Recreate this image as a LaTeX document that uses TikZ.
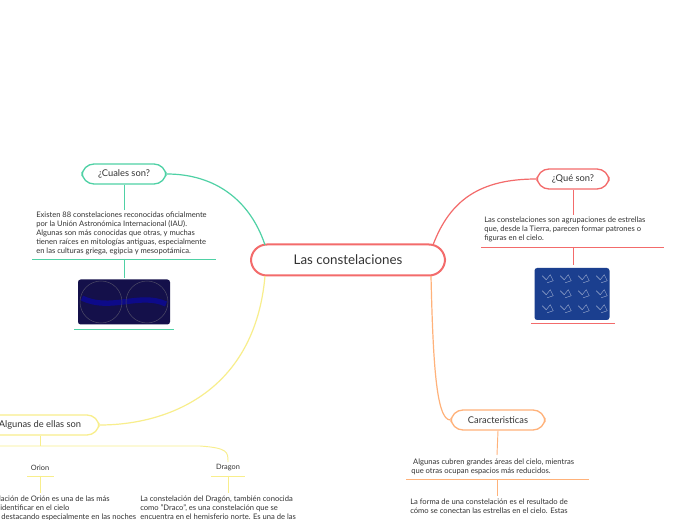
\documentclass[tikz,border=0pt]{standalone}
\usepackage{fontspec}
\setmainfont{Lato}
\usepackage{tikz}
\usetikzlibrary{calc}
\definecolor{rojo}{HTML}{F36B6B}
\definecolor{verde}{HTML}{4FD1A5}
\definecolor{amarillo}{HTML}{F8EE8C}
\definecolor{naranja}{HTML}{FFB27A}
\definecolor{cielo}{HTML}{1B3F8F}
\definecolor{noche}{HTML}{14104A}
\tikzset{
  tema/.style={draw=#1,line width=1pt,rounded corners=9pt,fill=white,
    minimum height=20pt*0.75,font=\fontsize{7}{8}\selectfont,text=black!80},
  texto/.style={anchor=north west,align=left,inner sep=0pt,
    font=\fontsize{5.7}{6.75}\selectfont,text=black!80},
  rama/.style={draw=#1,line width=0.9pt},
  linea/.style={draw=#1,line width=0.7pt}
}
\begin{document}
\begin{tikzpicture}[x=0.75pt,y=-0.75pt]
   \useasboundingbox[fill=white] (0,0) rectangle (697,520);
   %nodo central
   \node[tema=rojo,line width=1.5pt,minimum width=194*0.75pt,minimum height=31*0.75pt,
         rounded corners=12pt,font=\fontsize{10}{12}\selectfont] (central) at (348,260) {Las constelaciones};
   %ramas
   \node[tema=rojo,minimum width=72*0.75pt] (que) at (573,179) {¿Qué son?};
   \node[tema=verde,minimum width=84*0.75pt] (cuales) at (124,174) {¿Cuales son?};
   \node[tema=amarillo,minimum width=118*0.75pt] (algunas) at (40,425) {Algunas de ellas son};
   \node[tema=naranja,minimum width=94*0.75pt] (caract) at (498,420) {Caracteristicas};
   \draw[rama=rojo] (433,245) .. controls (450,200) and (480,179) .. (que.west);
   \draw[rama=verde] (265,245) .. controls (250,200) and (215,174) .. (cuales.east);
   \draw[rama=amarillo] (265,276) .. controls (255,390) and (170,425) .. (algunas.east);
   \draw[rama=naranja] (431,276) .. controls (433,360) and (436,420) .. (caract.west);
   %que son
   \node[texto] (t1) at (484,217) {Las constelaciones son agrupaciones de estrellas\\que, desde la Tierra, parecen formar patrones o\\figuras en el cielo.};
   \draw[linea=rojo] (que.south) -- (573,215);
   \draw[linea=rojo] (481,247) -- (664,247);
   \draw[linea=rojo] (573,247) -- (573,265);
   \node[fill=cielo,rounded corners=2pt,minimum width=75*0.75pt,minimum height=52*0.75pt] (img1) at (572,294) {};
   \foreach \i in {0,1,2,3} \foreach \j in {0,1,2}
      \draw[white!60!cielo,line width=0.3pt] ($(img1.north west)+(8+\i*18,8+\j*15)$) -- ++(4,4) -- ++(4,-5) -- ++(3,6) -- ++(-6,2);
   \draw[linea=rojo] (531,323) -- (615,323);
   %cuales son
   \draw[linea=verde] (cuales.south) -- (124,210);
   \node[texto] (t2) at (36,212) {Existen 88 constelaciones reconocidas oficialmente\\por la Unión Astronómica Internacional (IAU).\\Algunas son más conocidas que otras, y muchas\\tienen raíces en mitologías antiguas, especialmente\\en las culturas griega, egipcia y mesopotámica.};
   \draw[linea=verde] (32,259) -- (216,259);
   \draw[linea=verde] (124,259) -- (124,278);
   \node[fill=noche,rounded corners=2pt,minimum width=92*0.75pt,minimum height=45*0.75pt] (img2) at (124,302) {};
   \draw[blue!35!noche,line width=4pt] (82,298) .. controls (110,312) and (140,292) .. (166,304);
   \draw[gray!50!noche,line width=0.4pt] (101,302) circle (21) (147,302) circle (21);
   \draw[linea=verde] (74,329) -- (174,329);
   %algunas de ellas son
   \draw[linea=amarillo] (algunas.south) -- (40,446);
   \draw[linea=amarillo] (0,446) -- (200,446) .. controls (228,448) and (228,452) .. (228,462);
   \node[font=\fontsize{5.5}{6}\selectfont,text=black!80] (orion) at (40,468) {Orion};
   \node[font=\fontsize{5.5}{6}\selectfont,text=black!80] (dragon) at (228,468) {Dragon};
   \draw[linea=amarillo] (27,476) -- (54,476);
   \draw[linea=amarillo] (211,476) -- (245,476);
   \draw[linea=amarillo] (40,476) -- (40,493);
   \draw[linea=amarillo] (228,476) -- (228,493);
   \node[texto] (t3) at (-33,496) {La constelación de Orión es una de las más\\fáciles de identificar en el cielo\\nocturno, destacando especialmente en las noches};
   \node[texto] (t4) at (140,496) {La constelación del Dragón, también conocida\\como "Draco", es una constelación que se\\encuentra en el hemisferio norte. Es una de las};
   %caracteristicas
   \draw[linea=naranja] (caract.south) -- (497,455);
   \node[texto] (t5) at (411,459) {\ Algunas cubren grandes áreas del cielo, mientras\\que otras ocupan espacios más reducidos.};
   \draw[linea=naranja] (406,479) -- (589,479);
   \draw[linea=naranja] (497,479) -- (497,496);
   \node[texto] (t6) at (410,499) {La forma de una constelación es el resultado de\\cómo se conectan las estrellas en el cielo. Estas};
\end{tikzpicture}
\end{document}
